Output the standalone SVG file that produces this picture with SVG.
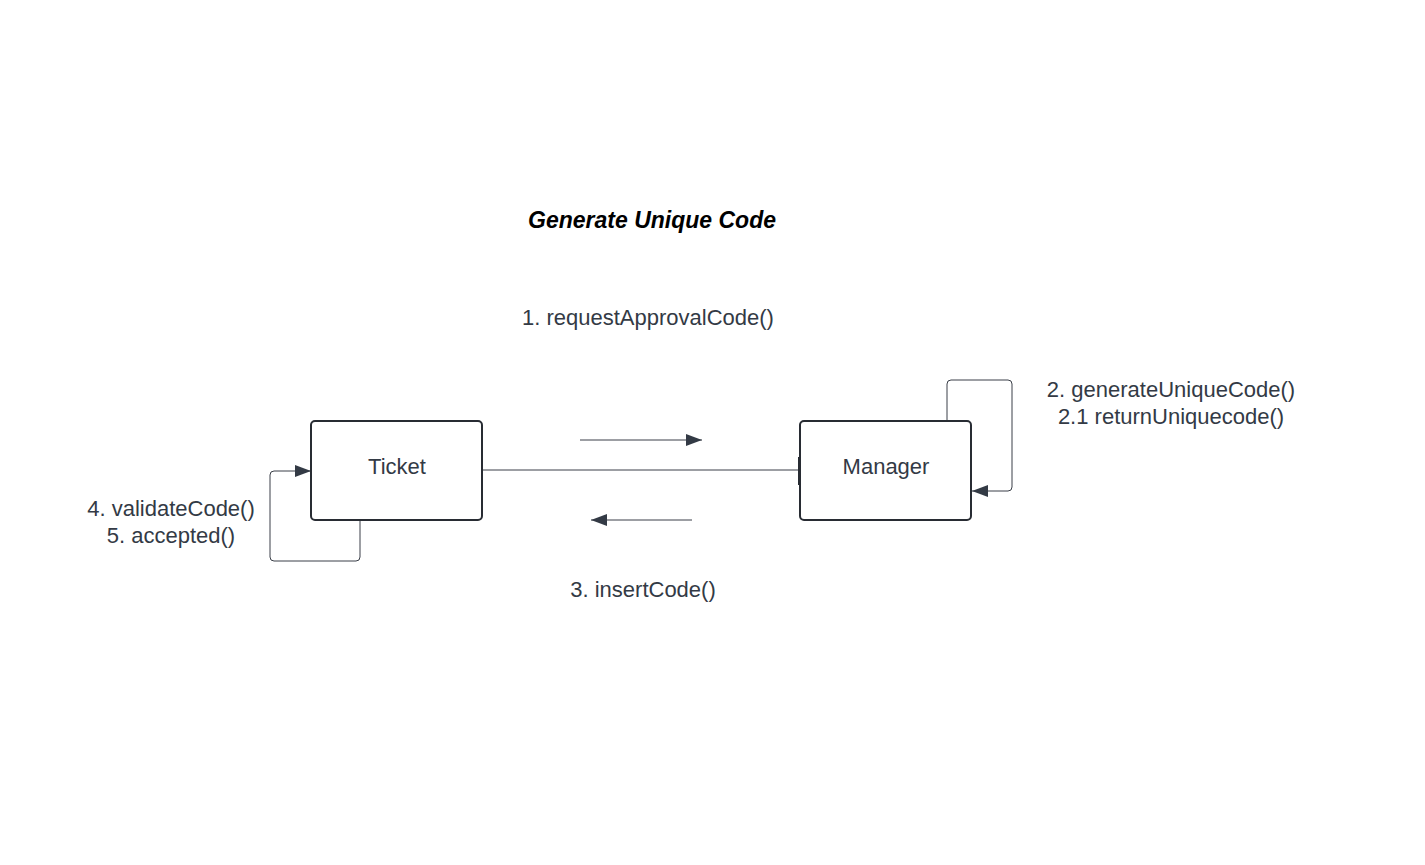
<svg xmlns="http://www.w3.org/2000/svg" width="1425" height="865" viewBox="0 0 1425 865">
<style>
.t{font-family:"Liberation Sans",Arial,sans-serif;font-size:22px;fill:#333a45;text-anchor:middle}
.title{font-family:"Liberation Sans",Arial,sans-serif;font-size:23px;font-weight:bold;font-style:italic;fill:#000;text-anchor:middle}
.box{fill:#fff;stroke:#282c33;stroke-width:2}
.ln{fill:none;stroke:#3a3f48;stroke-width:1}
</style>
<defs>
<marker id="ahb" viewBox="0 0 16 12" refX="16" refY="6" markerWidth="16" markerHeight="12" markerUnits="userSpaceOnUse" orient="auto">
<path d="M0,0 L16,6 L0,12 z" fill="#333a45"/>
</marker>
</defs>
<rect width="1425" height="865" fill="#fff"/>
<text class="title" x="652" y="228">Generate Unique Code</text>
<g id="connectors">
<line class="ln" x1="482" y1="470" x2="800" y2="470"/>
<rect x="798" y="457" width="3" height="28" fill="#282c33"/>
<path class="ln" d="M360,521 V557 a4,4 0 0 1 -4,4 H274 a4,4 0 0 1 -4,-4 V475 a4,4 0 0 1 4,-4 H311" marker-end="url(#ahb)"/>
<path class="ln" d="M947,421 V384 a4,4 0 0 1 4,-4 H1008 a4,4 0 0 1 4,4 V487 a4,4 0 0 1 -4,4 H972" marker-end="url(#ahb)"/>
<line class="ln" x1="580" y1="440" x2="702" y2="440" marker-end="url(#ahb)"/>
<line class="ln" x1="692" y1="520" x2="591" y2="520" marker-end="url(#ahb)"/>
</g>
<g id="ticket">
<rect class="box" x="311" y="421" width="171" height="99" rx="4"/>
<text class="t" x="397" y="474">Ticket</text>
</g>
<g id="manager">
<rect class="box" x="800" y="421" width="171" height="99" rx="4"/>
<text class="t" x="886" y="474">Manager</text>
</g>
<g id="labels">
<text class="t" x="648" y="325">1. requestApprovalCode()</text>
<text class="t" x="1171" y="397">2. generateUniqueCode()</text>
<text class="t" x="1171" y="424">2.1 returnUniquecode()</text>
<text class="t" x="643" y="597">3. insertCode()</text>
<text class="t" x="171" y="516">4. validateCode()</text>
<text class="t" x="171" y="543">5. accepted()</text>
</g>
</svg>
